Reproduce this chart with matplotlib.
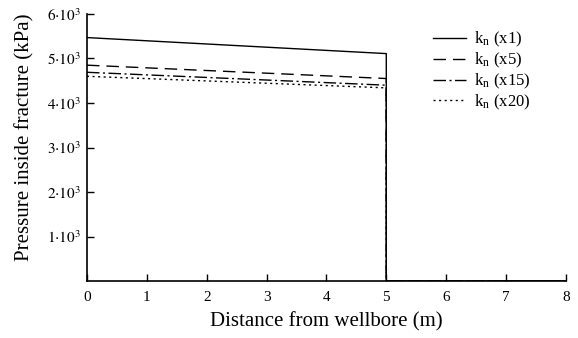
import numpy as np
import matplotlib
matplotlib.use("Agg")
import matplotlib.pyplot as plt

# =========================
# DATA
# =========================
x_pts = [0, 5, 5, 8]
p_x1 = [5470, 5110, 0, 0]
p_x5 = [4850, 4550, 0, 0]
p_x15 = [4690, 4400, 0, 0]
p_x20 = [4600, 4340, 0, 0]

labels = [r"k$_\mathregular{n}$ (x1)", r"k$_\mathregular{n}$ (x5)",
          r"k$_\mathregular{n}$ (x15)", r"k$_\mathregular{n}$ (x20)"]
yticks = [1000, 2000, 3000, 4000, 5000, 6000]
ytick_labels = [r"$%d{\cdot}10^3$" % (v // 1000) for v in yticks]

# =========================
# STYLE
# =========================
plt.rcParams["font.family"] = ["Liberation Serif", "DejaVu Serif"]
plt.rcParams["mathtext.fontset"] = "stix"

fig = plt.figure(figsize=(5.78, 3.38), dpi=100)
ax = fig.add_axes([0.1505, 0.1686, 0.8285, 0.79])

lw = 1.0
ax.plot(x_pts, p_x1, color="black", lw=lw, linestyle="-", label=labels[0])
ax.plot(x_pts, p_x5, color="black", lw=lw, dashes=(9, 5), label=labels[1])
ax.plot(x_pts, p_x15, color="black", lw=lw, dashes=(9, 2.5, 1.5, 2.5), label=labels[2])
ax.plot(x_pts, p_x20, color="black", lw=lw, dashes=(1.5, 2.5), label=labels[3])

ax.set_xlim(0, 8)
ax.set_ylim(0, 6000)
ax.set_xticks(range(0, 9))
ax.set_yticks(yticks)
ax.set_yticklabels(ytick_labels)

for s in ["top", "right"]:
    ax.spines[s].set_visible(False)
for s in ["left", "bottom"]:
    ax.spines[s].set_linewidth(1.2)

ax.tick_params(direction="in", length=5, width=1.0, labelsize=11, pad=7)
ax.tick_params(axis="y", pad=4)

ax.set_xlabel("Distance from wellbore (m)", fontsize=15, labelpad=6)
ax.set_ylabel("Pressure inside fracture (kPa)", fontsize=15)
ax.yaxis.set_label_coords(-0.11, 0.54)

ax.legend(loc="upper left", bbox_to_anchor=(0.722, 0.94), frameon=False,
          fontsize=12, handlelength=2.0, labelspacing=0.1, handletextpad=0.5,
          borderaxespad=0, borderpad=0)

fig.savefig("out.png", dpi=100)
